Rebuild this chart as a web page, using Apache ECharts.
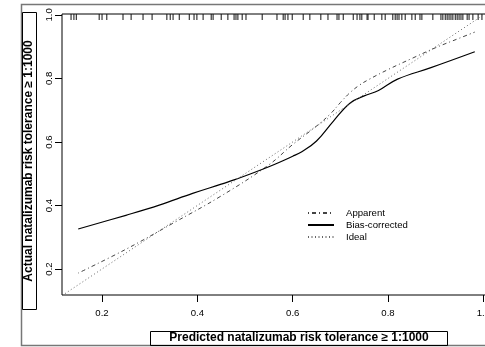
<!DOCTYPE html>
<html>
<head>
<meta charset="utf-8">
<script src="https://cdn.jsdelivr.net/npm/echarts@6/dist/echarts.min.js"></script>
<style>html,body{margin:0;padding:0;background:#fff}#c{width:485px;height:347px}</style>
</head>
<body>
<div id="c"></div>
<script>
// ---- data ----
const seriesNames = ['Apparent', 'Bias-corrected', 'Ideal'];
const tickValues = [0.2, 0.4, 0.6, 0.8, 1.0];
const apparentX = [0.150, 0.25, 0.35, 0.45, 0.55, 0.60, 0.65, 0.68, 0.70, 0.72, 0.74, 0.76, 0.80, 0.85, 0.90, 0.95, 0.982];
const apparentY = [0.187, 0.262, 0.345, 0.430, 0.528, 0.592, 0.650, 0.690, 0.724, 0.755, 0.779, 0.797, 0.828, 0.863, 0.897, 0.927, 0.946];
const biasX = [0.150, 0.25, 0.32, 0.39, 0.45, 0.48, 0.55, 0.60, 0.62, 0.65, 0.685, 0.72, 0.75, 0.78, 0.82, 0.89, 0.982];
const biasY = [0.326, 0.369, 0.401, 0.438, 0.467, 0.482, 0.522, 0.555, 0.570, 0.603, 0.665, 0.722, 0.745, 0.762, 0.798, 0.834, 0.884];
const idealX = [0.0, 1.2];
const rugX = [0.135, 0.141, 0.146, 0.194, 0.200, 0.210, 0.244, 0.261, 0.286, 0.305, 0.336, 0.343, 0.349, 0.362,
  0.383, 0.393, 0.399, 0.412, 0.429, 0.433, 0.450, 0.464, 0.477, 0.481, 0.485, 0.494, 0.502, 0.536, 0.567,
  0.580, 0.584, 0.590, 0.599, 0.622, 0.636, 0.659, 0.674, 0.693, 0.697, 0.706, 0.727, 0.735, 0.741, 0.745,
  0.756, 0.758, 0.771, 0.787, 0.794, 0.810, 0.815, 0.819, 0.823, 0.829, 0.836, 0.850, 0.857, 0.867, 0.871,
  0.894, 0.911, 0.915, 0.920, 0.924, 0.928, 0.932, 0.936, 0.941, 0.945, 0.949, 0.953, 0.957, 0.966, 0.970,
  0.978, 0.989, 0.997];
const xMin = 0.116, xMax = 1.1104, yMin = 0.118, yMax = 1.003;

const zip = (a, b) => a.map((v, i) => [v, b[i]]);
const font = 'Liberation Sans, Arial, sans-serif';

const chart = echarts.init(document.getElementById('c'), null, {renderer: 'canvas'});
chart.setOption({
  animation: false,
  backgroundColor: '#fff',
  grid: {left: 62, top: 14, width: 474, height: 281, containLabel: false, outerBoundsMode: 'none',
    show: true, borderColor: '#000', borderWidth: 1, backgroundColor: 'transparent'},
  xAxis: {
    type: 'value', min: xMin, max: xMax,
    name: 'Predicted natalizumab risk tolerance \u2265 1:1000',
    nameLocation: 'middle', nameGap: 37,
    nameTextStyle: {fontFamily: font, fontWeight: 'bold', fontSize: 12, color: '#000'},
    axisLine: {show: false},
    axisTick: {show: true, length: 7, customValues: tickValues, lineStyle: {color: '#000'}},
    axisLabel: {customValues: tickValues, formatter: v => v.toFixed(1), fontFamily: font, fontSize: 9.6, color: '#000', margin: 13},
    splitLine: {show: false}
  },
  yAxis: {
    type: 'value', min: yMin, max: yMax,
    name: 'Actual natalizumab risk tolerance \u2265 1:1000',
    nameLocation: 'middle', nameGap: 27,
    nameTextStyle: {fontFamily: font, fontWeight: 'bold', fontSize: 12, color: '#000', padding: [0, 13, 0, 0]},
    axisLine: {show: false},
    axisTick: {show: true, length: 7, customValues: tickValues, lineStyle: {color: '#000'}},
    axisLabel: {customValues: tickValues, formatter: v => v.toFixed(1), rotate: 90, fontFamily: font, fontSize: 9.6, color: '#000', margin: 8},
    splitLine: {show: false}
  },
  legend: {
    data: seriesNames, orient: 'vertical', left: 307, top: 208, padding: 0,
    itemWidth: 26, itemHeight: 9, itemGap: 2,
    itemStyle: {opacity: 0},
    textStyle: {fontFamily: font, fontSize: 9.6, color: '#000', padding: [0, 0, 0, 7]}
  },
  graphic: [
    {type: 'rect', shape: {x: 21.5, y: 4.5, width: 500, height: 341}, style: {fill: 'none', stroke: '#777', lineWidth: 1.5}, silent: true},
    {type: 'rect', shape: {x: 22.5, y: 12.5, width: 14, height: 297}, style: {fill: 'none', stroke: '#000', lineWidth: 1}, silent: true},
    {type: 'rect', shape: {x: 150.5, y: 331.5, width: 297, height: 14}, style: {fill: 'none', stroke: '#000', lineWidth: 1}, silent: true}
  ],
  series: [
    {
      name: 'Apparent', type: 'line', data: zip(apparentX, apparentY), smooth: 0.4, showSymbol: false, symbol: 'none',
      lineStyle: {color: '#444', width: 1, type: [1, 3, 4, 3]}, itemStyle: {color: '#444'}
    },
    {
      name: 'Bias-corrected', type: 'line', data: zip(biasX, biasY), smooth: 0.4, showSymbol: false, symbol: 'none',
      lineStyle: {color: '#000', width: 1.2, type: 'solid'}, itemStyle: {color: '#000'}
    },
    {
      name: 'Ideal', type: 'line', data: zip(idealX, idealX), showSymbol: false, symbol: 'none', clip: true,
      lineStyle: {color: '#666', width: 1, type: [1, 2.5]}, itemStyle: {color: '#666'}
    },
    {
      name: 'rug', type: 'custom', silent: true, clip: false,
      data: rugX.map(v => [v, yMax]),
      renderItem: (params, api) => {
        const p = api.coord([api.value(0), api.value(1)]);
        return {type: 'line', shape: {x1: p[0], y1: p[1], x2: p[0], y2: p[1] + 6}, style: {stroke: '#111', lineWidth: 1}};
      }
    }
  ]
});
</script>
</body>
</html>
